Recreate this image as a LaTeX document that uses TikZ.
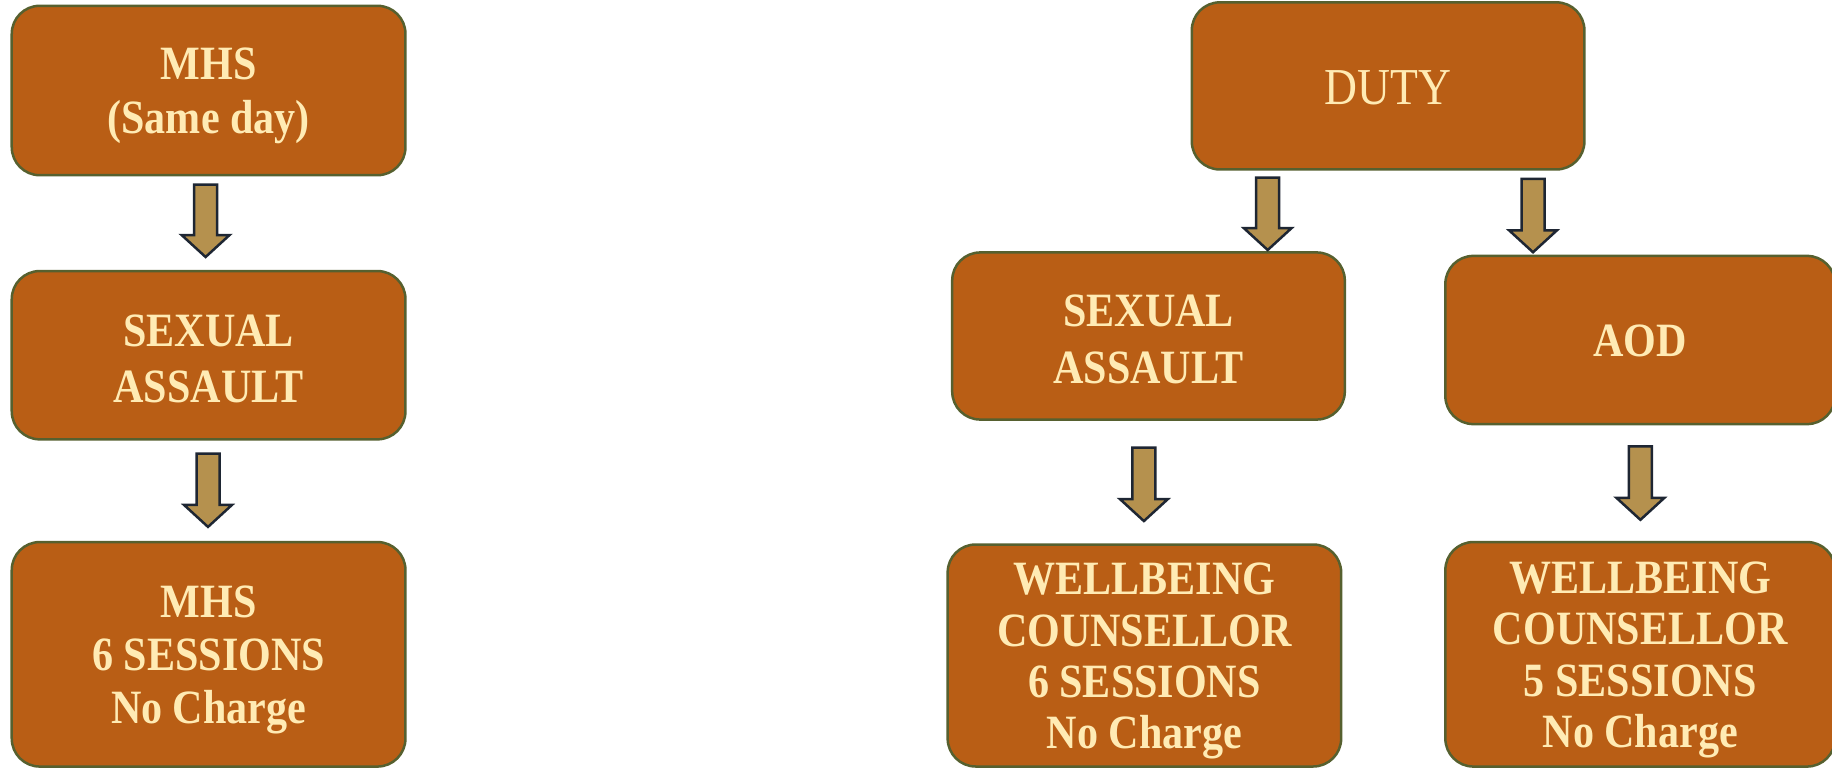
\documentclass[tikz,border=0pt]{standalone}
\usepackage{fontspec}
\setmainfont{Liberation Serif}[FakeStretch=0.88]
\usetikzlibrary{calc}
\definecolor{boxfill}{HTML}{B95E15}
\definecolor{boxline}{HTML}{56602F}
\definecolor{txt}{HTML}{FFEBB4}
\definecolor{arrfill}{HTML}{B5914E}
\definecolor{arrline}{HTML}{1E2633}
\newcommand\ls{\rule[-0.1em]{0pt}{1.0em}}
\newcommand\lsa{\rule[-0.1em]{0pt}{0.9em}}
\newcommand\blockarrow[2]{%
  \draw[blockarr] let \p1=#1, \p2=#2 in
    (\x1-11.5bp,\y1) -- (\x1+11.5bp,\y1) -- (\x1+11.5bp,\y2+22bp) -- (\x1+24bp,\y2+22bp)
    -- (\x1,\y2) -- (\x1-24bp,\y2+22bp) -- (\x1-11.5bp,\y2+22bp) -- cycle;}
\begin{document}
\begin{tikzpicture}[x=1bp,y=-1bp,
  box/.style={draw=boxline, line width=2.5bp, fill=boxfill, rounded corners=28bp,
    text=txt, align=center, inner sep=0pt,
    font=\fontsize{48}{54}\selectfont\bfseries},
  lsp/.style={font=\fontsize{48}{#1}\selectfont\bfseries},
  blockarr/.style={draw=arrline, fill=arrfill, line width=2.5bp, line join=miter}]
\useasboundingbox (0,0) rectangle (1832,768);
% left column
\node[box, minimum width=393.7bp, minimum height=169.4bp] (mhs) at (208.6,90.5) {\ls MHS\\(Same day)\ls};
\node[box, lsp=56, minimum width=393.7bp, minimum height=168.3bp] (saL) at (208.6,355.2) {\ls SEXUAL\\ASSAULT\ls};
\node[box, lsp=53, minimum width=393.7bp, minimum height=224.5bp] (mhsS) at (208.6,654.3) {\ls MHS\\6 SESSIONS\\No Charge\ls};
% right part
\node[box, minimum width=392.6bp, minimum height=167.1bp,
  font=\fontsize{52}{56}\selectfont] (duty) at (1388.1,85.9) {\lsa DUTY};
\node[box, lsp=57, minimum width=392.6bp, minimum height=167.1bp] (saR) at (1148.5,336) {\ls SEXUAL\\ASSAULT\ls};
\node[box, minimum width=389.7bp, minimum height=168.2bp] (aod) at (1640.2,340) {\lsa AOD};
\node[box, lsp=51.5, minimum width=393.5bp, minimum height=222bp] (wc1) at (1144.4,655.5) {\ls WELLBEING\\COUNSELLOR\\6 SESSIONS\\No Charge\ls};
\node[box, lsp=51.5, minimum width=389.7bp, minimum height=224.5bp] (wc2) at (1640.2,654.3) {\ls WELLBEING\\COUNSELLOR\\5 SESSIONS\\No Charge\ls};
% block arrows
\blockarrow{($(mhs.south)+(-3,8.2)$)}{($(saL.north)+(-3,-12.8)$)}
\blockarrow{($(saL.south)+(-0.6,12.9)$)}{($(mhsS.north)+(-0.6,-13.9)$)}
\blockarrow{($(duty.south)+(-120.4,7)$)}{($(saR.north)+(119.2,-1.2)$)}
\blockarrow{($(duty.south)+(144.9,8.2)$)}{($(aod.north)+(0,-2.4)$)}
\blockarrow{($(saR.south)+(-4.6,26.8)$)}{($(wc1.north)+(-0.5,-22.2)$)}
\blockarrow{($(aod.south)+(0.2,21.1)$)}{($(wc2.north)+(0.2,-21)$)}
\end{tikzpicture}
\end{document}
